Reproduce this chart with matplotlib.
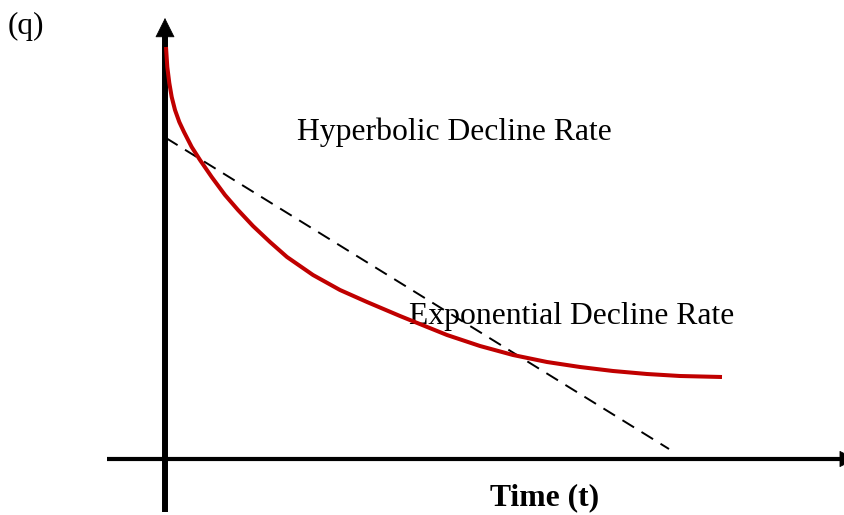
import numpy as np
import matplotlib.pyplot as plt

# ----------------------------------------------------------
# schematic data (t, q), origin at axes cross
# ----------------------------------------------------------
hyp_t = [1, 2.3, 4.3, 6.7, 10, 14.3, 19, 26.7, 35, 46.7, 60, 73, 88, 105, 122, 148,
         175, 202, 235, 282, 315, 348, 382, 415, 448, 482, 515, 557]
hyp_q = [412, 392, 376, 362, 349, 337, 327, 312, 299, 282, 264, 249, 233, 217, 202, 184,
         169, 157, 143, 124, 113, 104, 97, 92, 88, 85, 83, 82]

exp_t = [1, 504]
exp_q = [321, 10]

label_q = "(q)"
label_t = "Time (t)"
label_hyp = "Hyperbolic Decline Rate"
label_exp = "Exponential Decline Rate"

plt.rcParams['font.family'] = ['Liberation Serif', 'DejaVu Serif']

fig = plt.figure(figsize=(8.45, 5.15), dpi=100)
ax = fig.add_axes([0, 0, 1, 1])
ax.set_xlim(-165, 680)
ax.set_ylim(-56, 459)
ax.axis('off')

# ---- axes with arrow heads ----
ax.plot([0, 0], [-53, 424], color='black', lw=4.3, solid_capstyle='butt')
ax.annotate('', xy=(0, 441), xytext=(0, 423),
            arrowprops=dict(arrowstyle='-|>,head_width=0.65,head_length=1.3',
                            lw=0.5, color='black', shrinkA=0, shrinkB=0,
                            mutation_scale=10))
ax.plot([-58, 678], [0, 0], color='black', lw=3.0, solid_capstyle='butt')
ax.annotate('', xy=(691, 0), xytext=(676, 0),
            arrowprops=dict(arrowstyle='-|>,head_width=0.55,head_length=1.1',
                            lw=0.5, color='black', shrinkA=0, shrinkB=0,
                            mutation_scale=10), annotation_clip=False)

# ---- decline curves ----
ax.plot(exp_t, exp_q, color='black', lw=1.4, linestyle=(0, (7, 4.5)), zorder=3)
ax.plot(hyp_t, hyp_q, color='#C00000', lw=2.9, solid_capstyle='butt',
        solid_joinstyle='round', zorder=4)

# ---- texts ----
ax.text(-157, 425, label_q, fontsize=22.5, ha='left', va='baseline')
ax.text(132, 319, label_hyp, fontsize=22.8, ha='left', va='baseline')
ax.text(244, 135, label_exp, fontsize=22.8, ha='left', va='baseline')
ax.text(380, -46, label_t, fontsize=22.8, fontweight='bold', ha='center', va='baseline')

fig.savefig('out.png', dpi=100)
